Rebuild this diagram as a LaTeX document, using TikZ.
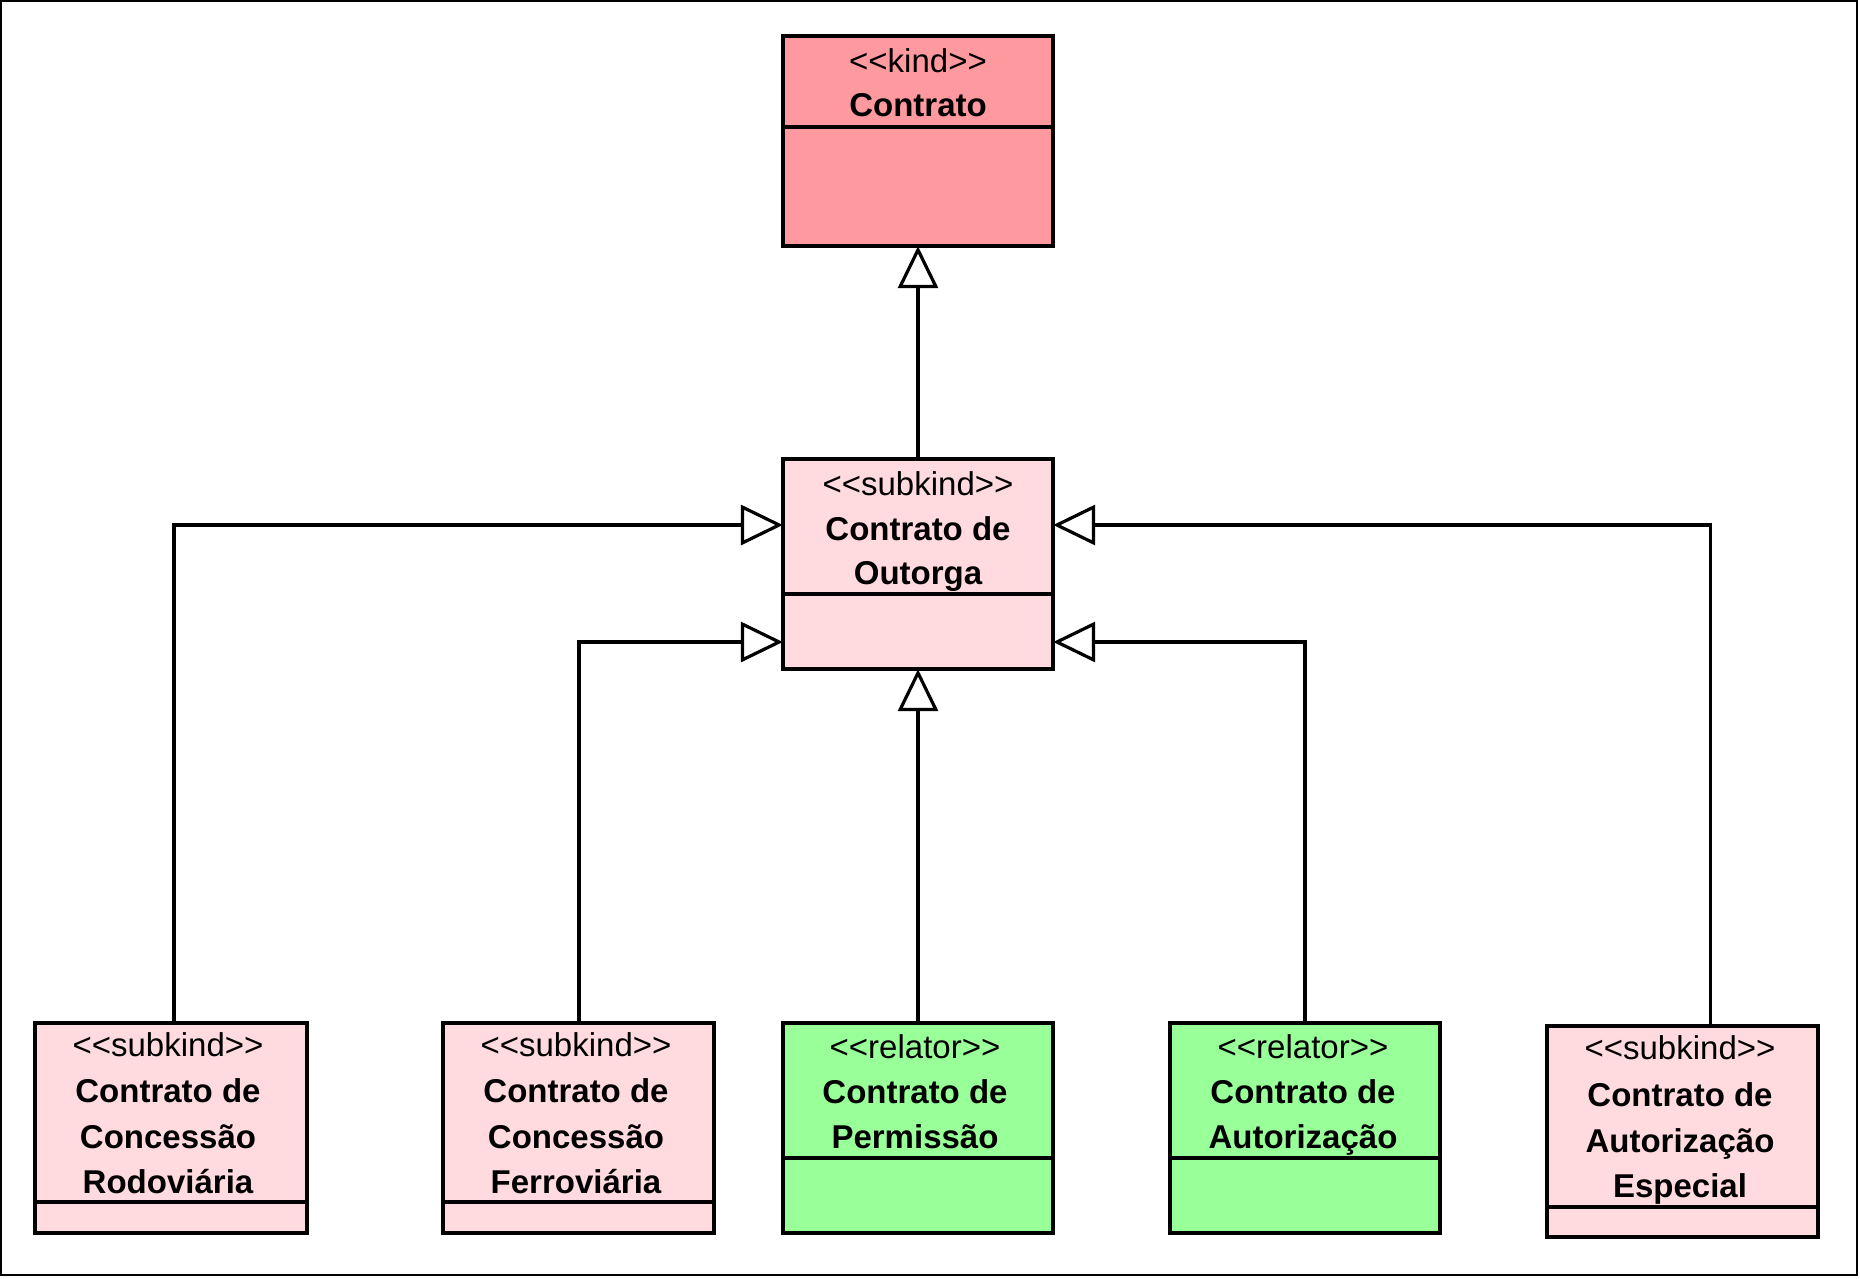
\documentclass[tikz,border=0pt]{standalone}
\usepackage{fontspec}
\setmainfont{Liberation Sans}
\usetikzlibrary{arrows.meta}
\definecolor{kindred}{RGB}{255,153,160}
\definecolor{subpink}{RGB}{255,218,222}
\definecolor{relgreen}{RGB}{153,255,153}
\newcommand\umlst[1]{<\kern0pt<#1>\kern0pt>}
\tikzset{
  cls/.style={draw, line width=3.3pt, inner sep=0pt, minimum width=270pt, minimum height=210pt},
  divline/.style={line width=3.3pt},
  stt/.style={anchor=base, inner sep=0pt, font=\fontsize{33}{40}\selectfont},
  ttl/.style={anchor=base, inner sep=0pt, font=\fontsize{33}{40}\selectfont\bfseries},
  gen/.style={line width=3.2pt, shorten >=-1.5pt, -{Triangle[open, length=42pt, width=40pt, fill=white]}},
  frame/.style={line width=2pt}
}
\begin{document}
\begin{tikzpicture}[x=1pt,y=-1pt]
\useasboundingbox (0,0) rectangle (1860,1278);
\draw[frame] (1,1) rectangle (1857,1275);

% Contrato
\node[cls, fill=kindred] (contrato) at (918,141) {};
\draw[divline] (783,127) -- (1053,127);
\node[stt] (contratoS) at (918,72) {\umlst{kind}};
\node[ttl] (contratoN) at (918,116) {Contrato};

% Outorga
\node[cls, fill=subpink] (outorga) at (918,564) {};
\draw[divline] (783,594) -- (1053,594);
\node[stt] (outorgaS) at (918,495) {\umlst{subkind}};
\node[ttl] (outorgaN1) at (918,540) {Contrato de};
\node[ttl] (outorgaN2) at (918,584) {Outorga};

% Rodoviaria
\node[cls, fill=subpink, minimum width=272pt] (rodo) at (171,1128) {};
\draw[divline] (35,1202) -- (307,1202);
\node[stt] (rodoS) at (168,1056) {\umlst{subkind}};
\node[ttl] (rodoN1) at (168,1102) {Contrato de};
\node[ttl] (rodoN2) at (168,1148) {Concessão};
\node[ttl] (rodoN3) at (168,1193) {Rodoviária};

% Ferroviaria
\node[cls, fill=subpink, minimum width=271pt] (ferro) at (578.5,1128) {};
\draw[divline] (443,1202) -- (714,1202);
\node[stt] (ferroS) at (576,1056) {\umlst{subkind}};
\node[ttl] (ferroN1) at (576,1102) {Contrato de};
\node[ttl] (ferroN2) at (576,1148) {Concessão};
\node[ttl] (ferroN3) at (576,1193) {Ferroviária};

% Permissao
\node[cls, fill=relgreen] (perm) at (918,1128) {};
\draw[divline] (783,1158) -- (1053,1158);
\node[stt] (permS) at (915,1058) {\umlst{relator}};
\node[ttl] (permN1) at (915,1103) {Contrato de};
\node[ttl] (permN2) at (915,1148) {Permissão};

% Autorizacao
\node[cls, fill=relgreen] (autor) at (1305,1128) {};
\draw[divline] (1170,1158) -- (1440,1158);
\node[stt] (autorS) at (1303,1058) {\umlst{relator}};
\node[ttl] (autorN1) at (1303,1103) {Contrato de};
\node[ttl] (autorN2) at (1303,1148) {Autorização};

% Especial
\node[cls, fill=subpink, minimum width=271pt, minimum height=211pt] (espec) at (1682.5,1131.5) {};
\draw[divline] (1547,1207) -- (1818,1207);
\node[stt] (especS) at (1680,1059) {\umlst{subkind}};
\node[ttl] (especN1) at (1680,1106) {Contrato de};
\node[ttl] (especN2) at (1680,1152) {Autorização};
\node[ttl] (especN3) at (1680,1197) {Especial};

% Generalizations
\draw[gen] (outorga.north) -- (contrato.south);
\draw[gen] (perm.north) -- (outorga.south);
\draw[gen] ([xshift=3pt]rodo.north) |- ([yshift=39pt]outorga.west);
\draw[gen] ([xshift=0.5pt]ferro.north) |- ([yshift=-78pt]outorga.west);
\draw[gen] (autor.north) |- ([yshift=-78pt]outorga.east);
\draw[gen] ([xshift=28pt]espec.north) |- ([yshift=39pt]outorga.east);
\end{tikzpicture}
\end{document}
